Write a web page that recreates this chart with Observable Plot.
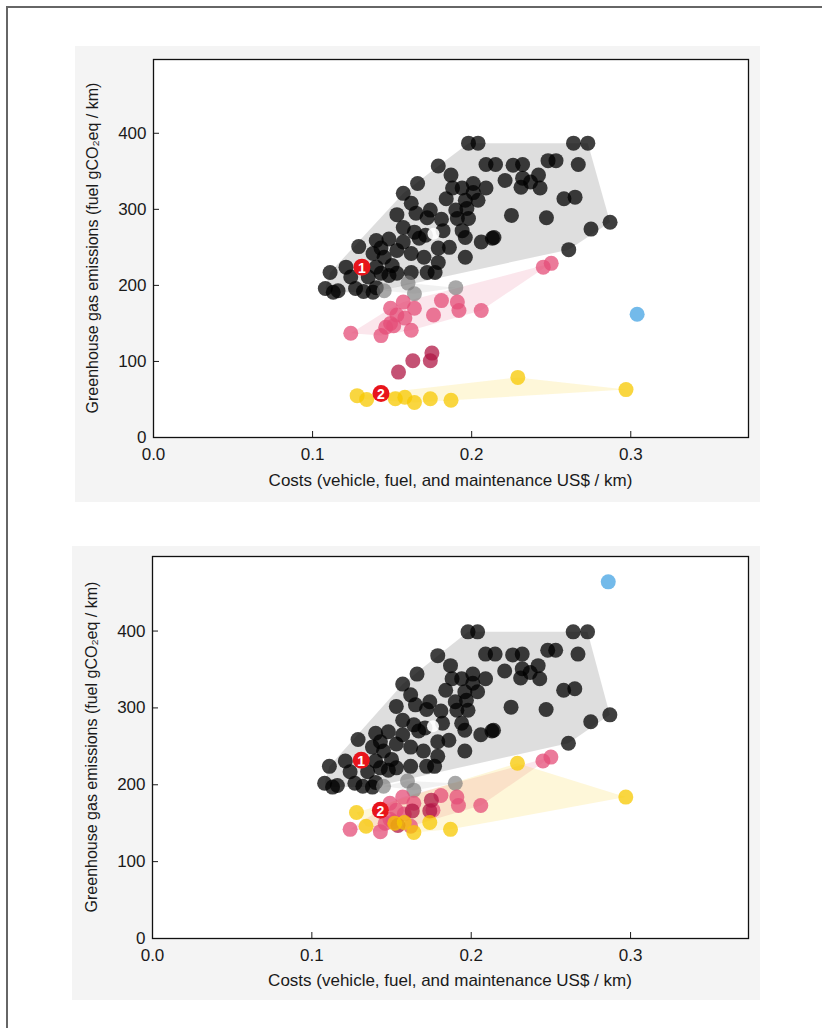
<!DOCTYPE html>
<html>
<head>
<meta charset="utf-8">
<script src="https://cdn.jsdelivr.net/npm/d3@7"></script>
<script src="https://cdn.jsdelivr.net/npm/@observablehq/plot@0.6"></script>
<style>
  body { margin:0; background:#fff; font-family:"Liberation Sans", Arial, sans-serif; }
  .outer { position:absolute; left:6px; top:6px; width:900px; height:1100px; border-left:2px solid #666; border-top:2px solid #666; }
  .panel { position:absolute; background:#f4f4f4; }
  .panel svg { position:absolute; left:0; top:0; }
  .xlab, .ylab { position:absolute; color:#1a1a1a; white-space:nowrap; }
  .ylab { font-size:16px; transform:translate(-50%,-50%) rotate(-90deg); }
  .xlab { font-size:17px; transform:translate(-50%,-50%); }
</style>
</head>
<body>
<div class="outer"></div>
<div id="p1" class="panel" style="left:75px; top:46px; width:685px; height:456px;"></div>
<div id="p2" class="panel" style="left:72px; top:546px; width:688px; height:454px;"></div>
<script>
// ---------- data ----------
const xTicks = [0, 0.1, 0.2, 0.3];
const yTicks = [0, 100, 200, 300, 400];
const xLabel = "Costs (vehicle, fuel, and maintenance US$ / km)";
const yLabel = "Greenhouse gas emissions (fuel gCO₂eq / km)";

// black group (conventional)
const blackCost = [0.198,0.204,0.264,0.273,0.209,0.215,0.226,0.232,0.248,0.253,0.267,0.179,0.187,0.221,0.232,0.237,0.242,0.243,0.231,0.166,0.188,0.194,0.201,0.209,0.201,0.157,0.162,0.184,0.196,0.204,0.190,0.197,0.258,0.265,0.165,0.174,0.153,0.172,0.181,0.191,0.198,0.225,0.247,0.157,0.164,0.171,0.182,0.194,0.196,0.206,0.214,0.275,0.287,0.140,0.148,0.157,0.167,0.179,0.186,0.261,0.196,0.129,0.143,0.153,0.162,0.170,0.138,0.145,0.179,0.111,0.140,0.150,0.153,0.162,0.172,0.177,0.121,0.124,0.135,0.143,0.148,0.108,0.113,0.127,0.132,0.138,0.140,0.116,0.213];
const blackGhg1 = [387,387,387,387,359,359,358,359,364,364,359,357,345,338,341,336,345,328,329,334,328,328,334,328,322,321,308,314,312,312,299,301,314,316,295,299,293,289,287,288,288,292,289,276,270,266,272,272,263,257,263,274,283,259,261,257,262,249,250,247,237,251,249,246,242,237,242,237,230,217,224,226,216,217,217,217,224,211,211,216,213,196,191,196,192,191,197,193,262];
const blackGhg2 = [399,399,399,399,370,370,369,370,375,375,370,368,355,348,351,346,355,338,339,344,338,338,344,338,332,331,317,323,321,321,308,310,323,325,304,308,302,298,296,297,297,301,298,284,278,274,280,280,271,265,271,282,291,267,269,265,270,256,258,254,244,259,256,253,249,244,249,244,237,224,231,233,222,224,224,224,231,217,217,222,219,202,197,202,198,197,203,199,270];

// gray group
const grayCost = [0.145,0.160,0.164,0.190];
const grayGhg1 = [193,203,189,197];
const grayGhg2 = [198,205,193,202];

// pink group
const pinkCost = [0.245,0.250,0.149,0.157,0.164,0.181,0.191,0.192,0.206,0.176,0.153,0.158,0.149,0.146,0.151,0.124,0.143,0.162];
const pinkGhg1 = [224,229,170,178,170,180,178,167,167,161,161,157,150,145,147,137,134,141];
const pinkGhg2 = [231,236,176,184,176,186,184,173,173,167,167,162,155,150,152,142,139,146];

// dark red group
const crimsonCost = [0.175,0.174,0.163,0.154];
const crimsonGhg1 = [111,101,101,86];
const crimsonGhg2 = [180,166,166,147];

// yellow group
const yellowCost = [0.128,0.134,0.152,0.158,0.164,0.174,0.187,0.229,0.297];
const yellowGhg1 = [55,50,51,53,46,51,49,79,63];
const yellowGhg2 = [164,146,150,151,138,151,142,228,184];

// single points
const blueCost = [0.304, 0.286];
const blueGhg = [162, 464];
const whiteCost = 0.176;
const whiteGhg = [268, 276];
const markerLabels = ["1", "2"];
const markerCost = [0.131, 0.143];
const markerGhg1 = [224, 58];
const markerGhg2 = [232, 167];

// ---------- styling ----------
const colors = {black:"#000000", gray:"#7a7a7a", pink:"#e44d78", crimson:"#b01845", yellow:"#f7c800", blue:"#5aaee6", marker:"#e8141b"};

function rows(cost, ghg, group) { return cost.map((c, i) => ({cost: c, ghg: ghg[i], group})); }

function chart(panel, pts, dims) {
  const black = rows(blackCost, pts.black, "black");
  const gray = rows(grayCost, pts.gray, "gray");
  const pink = rows(pinkCost, pts.pink, "pink");
  const crimson = rows(crimsonCost, pts.crimson, "crimson");
  const yellow = rows(yellowCost, pts.yellow, "yellow");
  const blue = [{cost: pts.blueCost, ghg: pts.blueGhg}];
  const white = [{cost: whiteCost, ghg: pts.white}];
  const markers = markerLabels.map((t, i) => ({cost: markerCost[i], ghg: pts.markers[i], t}));
  const hullOpacity = {black: 0.13, gray: 0.1, pink: 0.14, yellow: 0.15};
  const hull = (d, g) => Plot.hull(d, {x: "cost", y: "ghg", fill: colors[g], fillOpacity: hullOpacity[g], stroke: null});
  const dot = (d, g, op) => Plot.dot(d, {x: "cost", y: "ghg", r: 7.5, fill: colors[g], fillOpacity: op, stroke: null});
  const svg = Plot.plot({
    width: dims.width, height: dims.height,
    marginLeft: dims.ml, marginRight: dims.mr, marginTop: dims.mt, marginBottom: dims.mb,
    style: {background: "transparent", fontFamily: "'Liberation Sans', Arial, sans-serif", fontSize: "17px", color: "#1a1a1a", overflow: "visible"},
    x: {domain: [0, 0.374], ticks: xTicks, tickFormat: d3.format(".1f"), label: null},
    y: {domain: [0, 497], ticks: yTicks, label: null},
    marks: [
      Plot.frame({fill: "#fff", stroke: null}),
      hull(black, "black"), hull(gray, "gray"), hull(pink, "pink"), hull(yellow, "yellow"),
      dot(black, "black", 0.75),
      dot(gray, "gray", 0.65),
      dot(pink, "pink", 0.75),
      dot(crimson, "crimson", 0.75),
      dot(yellow, "yellow", 0.75),
      Plot.dot(blue, {x: "cost", y: "ghg", r: 7.5, fill: colors.blue, fillOpacity: 0.85}),
      Plot.dot(white, {x: "cost", y: "ghg", r: 6, fill: "#fff", fillOpacity: 0.9}),
      Plot.dot(markers, {x: "cost", y: "ghg", r: 8.5, fill: colors.marker}),
      Plot.text(markers, {x: "cost", y: "ghg", text: "t", fill: "#fff", fontWeight: "bold", fontSize: 14, dy: 1}),
      Plot.axisX({ticks: xTicks, tickFormat: d3.format(".1f"), tickSize: -6, tickPadding: 16, label: null, fontSize: 17}),
      Plot.axisY({ticks: yTicks, tickSize: -6, tickPadding: 13, label: null, fontSize: 17}),
      Plot.frame({stroke: "#111", strokeWidth: 1.3})
    ]
  });
  panel.appendChild(svg);
  const xl = document.createElement("div");
  xl.className = "xlab"; xl.textContent = xLabel;
  xl.style.left = (dims.ml + (dims.width - dims.ml - dims.mr) / 2) + "px";
  xl.style.top = (dims.height - dims.mb + dims.xlOff) + "px";
  panel.appendChild(xl);
  const yl = document.createElement("div");
  yl.className = "ylab"; yl.textContent = yLabel;
  yl.style.left = (dims.ml - dims.ylOff) + "px";
  yl.style.top = (dims.mt + (dims.height - dims.mt - dims.mb) / 2) + "px";
  panel.appendChild(yl);
}

chart(document.getElementById("p1"), {
  black: blackGhg1, gray: grayGhg1, pink: pinkGhg1, crimson: crimsonGhg1, yellow: yellowGhg1,
  blueCost: blueCost[0], blueGhg: blueGhg[0], white: whiteGhg[0], markers: markerGhg1
}, {width: 685, height: 456, ml: 78, mr: 12, mt: 13, mb: 65, xlOff: 44, ylOff: 60});

chart(document.getElementById("p2"), {
  black: blackGhg2, gray: grayGhg2, pink: pinkGhg2, crimson: crimsonGhg2, yellow: yellowGhg2,
  blueCost: blueCost[1], blueGhg: blueGhg[1], white: whiteGhg[1], markers: markerGhg2
}, {width: 688, height: 454, ml: 80, mr: 12, mt: 10, mb: 62, xlOff: 43, ylOff: 60});
</script>
</body>
</html>
